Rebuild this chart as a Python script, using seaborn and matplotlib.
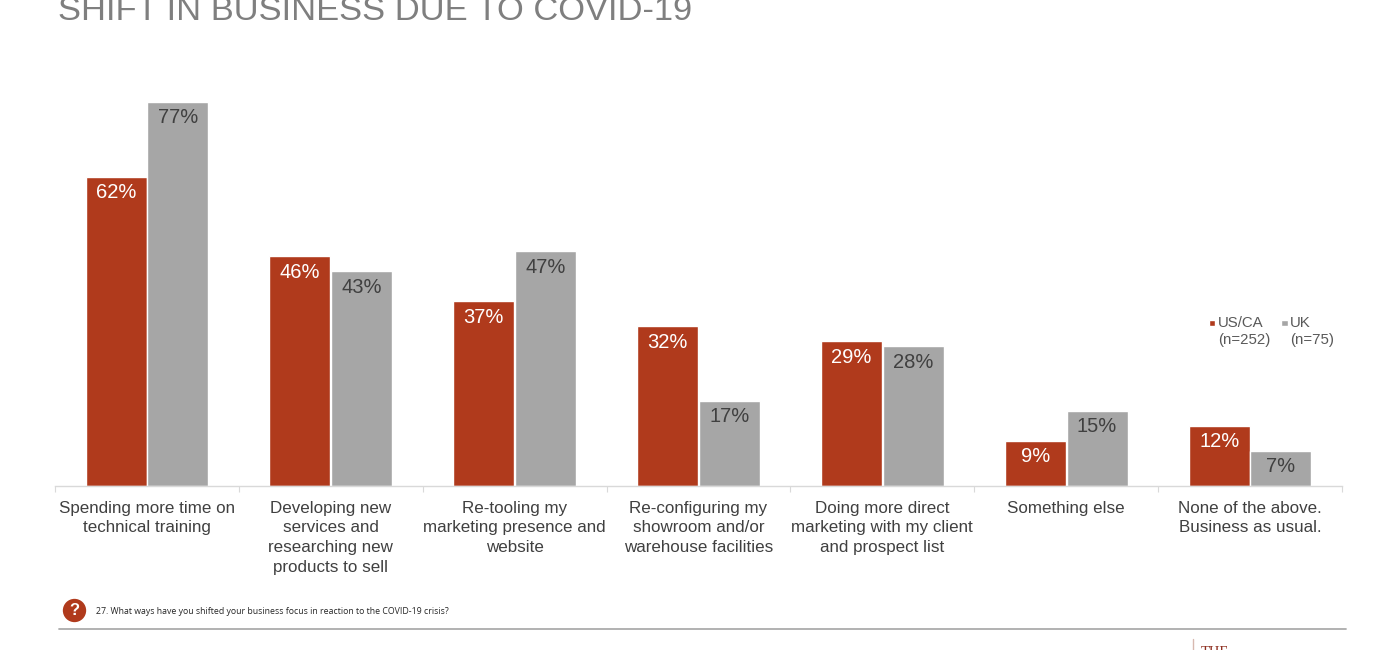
import matplotlib
matplotlib.use("Agg")
import matplotlib.pyplot as plt
from matplotlib.lines import Line2D
from matplotlib.patches import Rectangle
from matplotlib.legend_handler import HandlerPatch
import pandas as pd
import seaborn as sns

categories = [
    "Spending more time on\ntechnical training",
    "Developing new\nservices and\nresearching new\nproducts to sell",
    "Re-tooling my\nmarketing presence and\nwebsite",
    "Re-configuring my\nshowroom and/or\nwarehouse facilities",
    "Doing more direct\nmarketing with my client\nand prospect list",
    "Something else",
    "None of the above.\nBusiness as usual.",
]
us_ca = [62, 46, 37, 32, 29, 9, 12]
uk = [77, 43, 47, 17, 28, 15, 7]
series_names = ["US/CA", "UK"]
legend_labels = ["US/CA\n(n=252)", "UK\n(n=75)"]
title = "SHIFT IN BUSINESS DUE TO COVID-19"
question = "27. What ways have you shifted your business focus in reaction to the COVID-19 crisis?"

RED = "#B03A1C"
GRAY = "#A6A6A6"
W, H = 1400, 650

sns.set_theme(style="white")
plt.rcParams["font.family"] = ["Liberation Sans", "DejaVu Sans"]

df = pd.DataFrame({
    "category": categories * 2,
    "series": [series_names[0]] * 7 + [series_names[1]] * 7,
    "value": us_ca + uk,
})

fig = plt.figure(figsize=(14, 6.5), dpi=100, facecolor="white")
ax = fig.add_axes([55 / W, 1 - 486 / H, (1342 - 55) / W, (486 - 60) / H])
sns.barplot(data=df, x="category", y="value", hue="series", hue_order=series_names,
            palette=[RED, GRAY], width=0.672, gap=0.012, saturation=1, ax=ax, legend=False)

ax.set_xlim(-0.5, 6.5)
ax.set_ylim(0, 426 / 4.99)
ax.set_xlabel("")
ax.set_ylabel("")
ax.set_yticks([])
for s in ["top", "left", "right"]:
    ax.spines[s].set_visible(False)
ax.spines["bottom"].set_color("#D9D9D9")
ax.spines["bottom"].set_linewidth(1)
ax.set_xticks(range(7))
ax.set_xticklabels(categories, fontsize=12.25, color="#404040", linespacing=1.4)
ax.tick_params(axis="x", which="major", length=0, pad=10.5)
ax.set_xticks([i - 0.5 for i in range(8)], minor=True)
ax.tick_params(axis="x", which="minor", length=4.5, width=0.8, color="#D9D9D9", bottom=True)

for cont, col in zip(ax.containers, ["white", "#404040"]):
    ax.bar_label(cont, fmt="%.0f%%", label_type="edge", padding=-18.2, color=col, fontsize=14.5)

fig.text(58 / W, 1 - 20 / H, title, fontsize=24.8, color="#7F7F7F", va="baseline", ha="left")

# legend with each marker on the first line of its label
def first_line_square(legend, orig_handle, xdescent, ydescent, width, height, fontsize):
    return Rectangle((0, height + 0.3), 4.5, 4.2, facecolor=orig_handle.get_facecolor(), edgecolor="none")

handles = [Rectangle((0, 0), 1, 1, facecolor=RED), Rectangle((0, 0), 1, 1, facecolor=GRAY)]
leg = ax.legend(handles, legend_labels, ncol=2, frameon=False, fontsize=10.8, labelcolor="#595959",
                loc="upper left", bbox_to_anchor=((1209 - 55) / (1342 - 55), (486 - 316) / 426),
                borderpad=0, borderaxespad=0, handlelength=0.6, handletextpad=0.0, columnspacing=0.73,
                labelspacing=0,
                handler_map={Rectangle: HandlerPatch(patch_func=first_line_square)})
for t in leg.get_texts():
    t.set_linespacing(1.3)

# footer
fig.text(74.5 / W, 1 - 610.5 / H, "?", fontsize=12, fontweight="bold", color="white", ha="center", va="center",
         bbox=dict(boxstyle="circle,pad=0.25", facecolor=RED, edgecolor="none"))
fig.text(96 / W, 1 - 611 / H, question, fontsize=6.27, color="#262626", ha="left", va="center",
         family=["Open Sans", "DejaVu Sans"])
fig.add_artist(Line2D([59 / W, 1346 / W], [1 - 629 / H] * 2, color="#ABABAB", linewidth=1.3))
fig.add_artist(Line2D([1193 / W] * 2, [1 - 639 / H, 0], color="#D8B9B0", linewidth=1))
fig.text(1201 / W, 1 - 656 / H, "THE", fontsize=10.5, color="#8E2F20", family=["Liberation Serif"],
         ha="left", va="baseline")

fig.savefig("out.png", dpi=100)
